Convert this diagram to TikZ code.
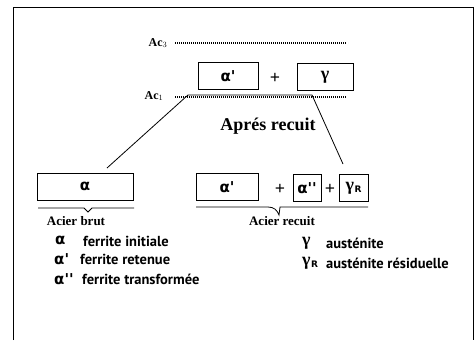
\documentclass[tikz,border=0pt]{standalone}
\usepackage{fontspec}
\setmainfont{Liberation Serif}
\newfontfamily\gk{DejaVu Sans}
\newfontfamily\lgd{PT Sans}
\newcommand{\prm}{\textquotesingle}
\newcommand{\gam}{{\rmfamily\bfseries\fontsize{18}{18}\selectfont γ}}
\newcommand{\gR}{\gam\kern0.5pt\raisebox{-2pt}{\fontsize{9}{9}\selectfont R}}
\begin{document}
\begin{tikzpicture}[x=1pt,y=-1pt,
  phase/.style={draw,line width=0.9pt,inner sep=0pt,minimum height=27pt,font=\gk\bfseries\fontsize{15}{15}\selectfont},
  plus/.style={inner sep=0pt,font=\bfseries\fontsize{18}{18}\selectfont},
  lbl/.style={inner sep=0pt,font=\bfseries\fontsize{13}{13}\selectfont},
  title/.style={inner sep=0pt,font=\bfseries\fontsize{18}{18}\selectfont},
  ac/.style={inner sep=0pt,font=\bfseries\fontsize{12}{12}\selectfont},
  sym/.style={inner sep=0pt,anchor=west,font=\gk\bfseries\fontsize{15}{15}\selectfont},
  legend/.style={inner sep=0pt,anchor=west,font=\lgd\bfseries\fontsize{14.5}{14.5}\selectfont},
  dotline/.style={line width=1.3pt,dash pattern=on 0.9pt off 1.1pt},
  leg/.style={line width=0.8pt},
  bracket/.style={line width=0.8pt}
]
\useasboundingbox (0,0) rectangle (476,340);
\draw[line width=1pt] (13,340) -- (13,7) -- (473,7) -- (473,340);

% temperature levels
\node[ac] (ac3) at (158,43) {Ac$_3$};
\node[ac] (ac1) at (154,96) {Ac$_1$};
\coordinate (d3a) at (175,43);
\coordinate (d3b) at (346,43);
\coordinate (d1a) at (175,97);
\coordinate (d1b) at (346,97);
\draw[dotline] (d3a) -- (d3b);
\draw[dotline] (d1a) -- (d1b);

% top phases
\node[phase,minimum width=60pt] (atop) at (228,76) {α\prm};
\node[plus] (p0) at (275,78) {+};
\node[phase,minimum width=56pt] (gtop) at (325,77) {\gam};

\node[title] (apres) at (268,126) {Aprés recuit};

% plateau and legs
\coordinate (pl) at (188,95);
\coordinate (pr) at (312,95);
\coordinate (el) at (107,168);
\coordinate (er) at (343,164);
\draw[leg] (el) -- (pl) -- (pr) -- (er);

% bottom left
\node[phase,minimum width=96pt] (abrut) at (85,186.5) {α};
\coordinate (b1) at (38,208);
\coordinate (b2) at (134,208);
\coordinate (bn) at (88,212);
\draw[bracket] (b1) -- (84,208) -- (bn) -- (92,208) -- (b2);
\node[lbl] (brut) at (76,221) {Acier brut};

% bottom right
\node[phase,minimum width=62pt] (arec) at (227,187) {α\prm};
\node[plus] (p1) at (280,189) {+};
\node[phase,minimum width=28pt] (app) at (307,188) {α\prm\prm};
\node[plus] (p2) at (330,189) {+};
\node[phase,minimum width=29pt] (gr) at (353.5,188) {\gR};
\coordinate (r1) at (196,207);
\coordinate (r2) at (368,207);
\coordinate (rn) at (279,215);
\draw[bracket] (r1) -- (268,207) .. controls (274,207) and (277,210) .. (rn) -- (280,207) -- (r2);
\node[lbl] (recuit) at (282,221) {Acier recuit};

% legend
\node[sym] (s1) at (55,240) {α};
\node[legend] (t1) at (83,241) {ferrite initiale};
\node[sym] (s2) at (54,259) {α\prm};
\node[legend] (t2) at (80,259) {ferrite retenue};
\node[sym] (s3) at (54,279) {α\prm\prm};
\node[legend] (t3) at (82,279) {ferrite transformée};
\node[sym] (s4) at (302,243) {\gam};
\node[legend] (t4) at (326,243) {austénite};
\node[sym] (s5) at (302,263) {\gR};
\node[legend] (t5) at (326,263) {austénite résiduelle};
\end{tikzpicture}
\end{document}
